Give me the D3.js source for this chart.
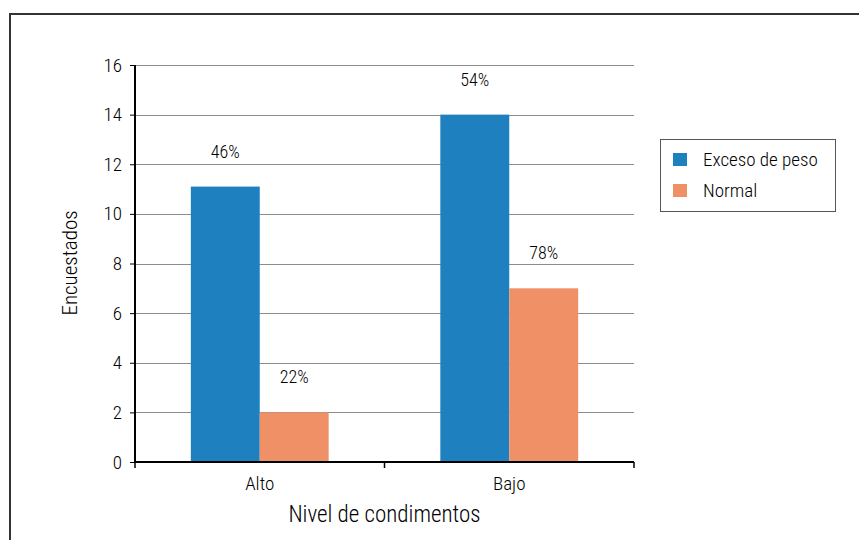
<!DOCTYPE html>
<html><head><meta charset="utf-8">
<script src="https://cdn.jsdelivr.net/npm/d3@7"></script>
<style>
body{margin:0;background:#fff;}
text{font-family:"Liberation Sans Narrow","Roboto Condensed","Arial Narrow",Roboto,sans-serif;fill:#000;font-weight:300;}
</style></head><body>
<svg id="c" width="859" height="540"></svg>
<script>
const categories = ["Alto", "Bajo"];
const seriesNames = ["Exceso de peso", "Normal"];
const exceso = [11.1, 14];
const normal = [2, 7];
const excesoLabels = ["46%", "54%"];
const normalLabels = ["22%", "78%"];
const yTicks = [0, 2, 4, 6, 8, 10, 12, 14, 16];
const colors = ["#1f80c0", "#f09067"];

const svg = d3.select("#c");
svg.append("rect").attr("x", 10).attr("y", 14).attr("width", 870).attr("height", 560)
  .attr("fill", "none").attr("stroke", "#333").attr("stroke-width", 2);

const m = {left: 135, right: 634, top: 65, bottom: 462};
const x = d3.scaleBand().domain(categories).range([m.left, m.right]);
const xs = d3.scaleBand().domain(seriesNames).range([0, x.bandwidth()]).paddingOuter(0.81).paddingInner(0);
const y = d3.scaleLinear().domain([0, 16]).range([m.bottom, m.top]);

// grid
svg.append("g").selectAll("line").data(yTicks.filter(d => d > 0)).join("line")
  .attr("x1", m.left).attr("x2", m.right)
  .attr("y1", d => Math.round(y(d)) + 0.5).attr("y2", d => Math.round(y(d)) + 0.5)
  .attr("stroke", "#8c8c8c").attr("stroke-width", 1);

// bars
const data = categories.map((c, i) => ({c, vals: [exceso[i], normal[i]], labs: [excesoLabels[i], normalLabels[i]]}));
const groups = svg.append("g").selectAll("g").data(data).join("g")
  .attr("transform", d => `translate(${x(d.c)},0)`);
groups.selectAll("rect").data(d => d.vals.map((v, j) => ({v, j}))).join("rect")
  .attr("x", d => xs(seriesNames[d.j])).attr("width", xs.bandwidth())
  .attr("y", d => y(d.v)).attr("height", d => y(0) - y(d.v))
  .attr("fill", d => colors[d.j]);
groups.selectAll("text").data(d => d.vals.map((v, j) => ({v, j, l: d.labs[j]}))).join("text")
  .attr("x", d => xs(seriesNames[d.j]) + xs.bandwidth() / 2)
  .attr("y", d => y(d.v) - 29)
  .attr("text-anchor", "middle").attr("font-size", 18).text(d => d.l);

// y axis
const ya = svg.append("g").attr("transform", `translate(${m.left},0)`)
  .call(d3.axisLeft(y).tickValues(yTicks).tickSize(5).tickPadding(8));
ya.select(".domain").attr("stroke", "#000").attr("stroke-width", 2).attr("d", `M0,${m.top}V${m.bottom}`);
ya.selectAll(".tick line").attr("stroke", "#000");
ya.selectAll(".tick text").attr("font-size", 19).attr("fill", "#000")
  .attr("font-family", '"Liberation Sans Narrow","Roboto Condensed",sans-serif');

// x axis
const xa = svg.append("g").attr("transform", `translate(0,${m.bottom})`);
xa.append("line").attr("x1", m.left).attr("x2", m.right).attr("y1", 0).attr("y2", 0)
  .attr("stroke", "#000").attr("stroke-width", 2);
const xTickPos = [m.left, x(categories[1]), m.right];
xa.selectAll("line.t").data(xTickPos).join("line").attr("class", "t")
  .attr("x1", d => d).attr("x2", d => d).attr("y1", 0).attr("y2", 6)
  .attr("stroke", "#000").attr("stroke-width", 1.5);
xa.selectAll("text").data(categories).join("text")
  .attr("x", d => x(d) + x.bandwidth() / 2).attr("y", 28)
  .attr("text-anchor", "middle").attr("font-size", 19).text(d => d);

// titles
svg.append("text").attr("x", (m.left + m.right) / 2).attr("y", 522)
  .attr("text-anchor", "middle").attr("font-size", 23).text("Nivel de condimentos");
svg.append("text").attr("transform", "translate(77,263) rotate(-90)")
  .attr("text-anchor", "middle").attr("font-size", 21).text("Encuestados");

// legend
const lg = svg.append("g");
lg.append("rect").attr("x", 660.5).attr("y", 139.5).attr("width", 175).attr("height", 72)
  .attr("fill", "#fff").attr("stroke", "#555").attr("stroke-width", 1);
lg.selectAll("rect.s").data(seriesNames).join("rect").attr("class", "s")
  .attr("x", 673).attr("y", (d, i) => 153 + i * 31).attr("width", 14).attr("height", 13)
  .attr("fill", (d, i) => colors[i]);
lg.selectAll("text").data(seriesNames).join("text")
  .attr("x", 703).attr("y", (d, i) => 166 + i * 31).attr("font-size", 19).text(d => d);
</script>
</body></html>
